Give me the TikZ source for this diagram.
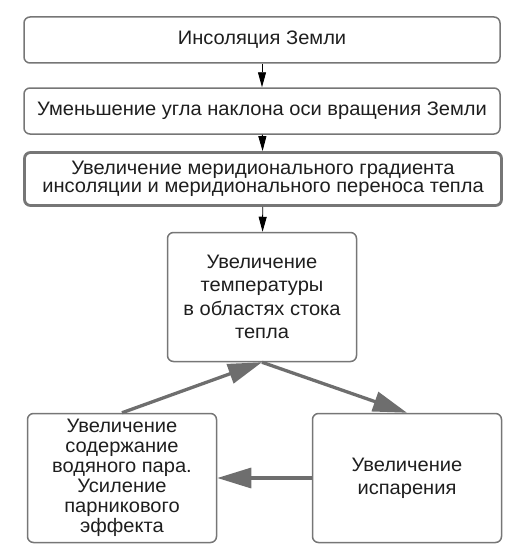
\documentclass[tikz,border=0pt]{standalone}
\usepackage{fontspec}
\setmainfont{Liberation Sans}[FakeStretch=1.03]
\usepackage{xcolor}
\usepackage{tikz}
\usetikzlibrary{arrows.meta,positioning}

\definecolor{boxgray}{HTML}{767676}
\definecolor{arrgray}{HTML}{6E6E6E}
\definecolor{txt}{HTML}{1E1E1E}

\begin{document}
\begin{tikzpicture}[
  x=1pt, y=-1pt,
  every node/.style={font=\fontsize{19.5}{20}\selectfont, text=txt},
  box/.style={draw=boxgray, line width=1.5pt, rectangle, rounded corners=6pt,
              inner sep=0pt, align=center},
  wide/.style={box, minimum width=476pt, minimum height=46pt},
  keybox/.style={box, line width=2.8pt, minimum width=477pt, minimum height=53pt,
                 font=\fontsize{19.5}{18}\selectfont},
  loopbox/.style={box, minimum width=189pt, minimum height=129pt},
  thin/.style={-{Triangle[length=15pt,width=8pt]}, line width=0.9pt, black},
  thick/.style={-{Triangle[length=34pt,width=20pt]}, line width=3.3pt, arrgray}
]
\useasboundingbox (0,0) rectangle (524,551);

%% Chain at the top
\node[wide]   (ins)  at (262,40)  {Инсоляция Земли};
\node[wide]   (tilt) at (262,111) {Уменьшение угла наклона оси вращения Земли};
\node[keybox] (grad) at (263,179)
    {Увеличение меридионального градиента\\инсоляции и меридионального переноса тепла};
\draw[thin] (ins)--(tilt); \draw[thin] (tilt)--(grad);

%% Feedback loop
\node[loopbox, font=\fontsize{19.5}{23.3}\selectfont] (temp) at (262,297)
    {Увеличение\\температуры\\в областях стока\\тепла};
\node[loopbox] (vap)  at (122,478)
    {Увеличение\\содержание\\водяного пара.\\Усиление\\парникового\\эффекта};
\node[loopbox, font=\fontsize{19.5}{22.7}\selectfont] (evap) at (407,478)
    {Увеличение\\испарения};
\draw[thin] (grad)--(temp);
\draw[thick] (vap.north)--(temp.south);
\draw[thick] (temp.south)--(evap.north);
\draw[thick] (evap)--(vap);
\end{tikzpicture}
\end{document}
